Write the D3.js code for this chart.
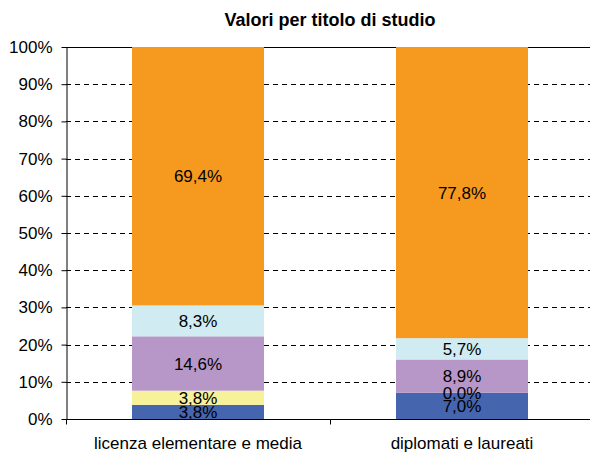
<!DOCTYPE html>
<html>
<head>
<meta charset="utf-8">
<style>
body { margin: 0; background: #fff; }
text { font-family: "Liberation Sans", Arial, sans-serif; fill: #000; }
.grid line { stroke: #000; stroke-width: 1px; stroke-dasharray: 5,4; }
</style>
</head>
<body>
<div id="chart"></div>
<script src="https://d3js.org/d3.v7.min.js"></script>
<script>

var categories = ["licenza elementare e media", "diplomati e laureati"];
var series = ["s1", "s2", "s3", "s4", "s5"];
var colors = ["#4565ae", "#f7f29a", "#b797c7", "#d0ecf2", "#f59a1f"];
var values1 = [3.8, 3.8, 14.6, 8.3, 69.4];
var values2 = [7.0, 0.0, 8.9, 5.7, 77.8];
var yTicks = [0, 10, 20, 30, 40, 50, 60, 70, 80, 90, 100];

var width = 590, height = 457;
var margin = {top: 47, right: -4, bottom: 38, left: 66};

var svg = d3.select("#chart").append("svg")
    .attr("width", width)
    .attr("height", height);

var x = d3.scaleBand()
    .domain(categories)
    .range([margin.left, width - margin.right])
    .paddingInner(0.5)
    .paddingOuter(0.25);

var y = d3.scaleLinear()
    .domain([0, 100])
    .range([height - margin.bottom, margin.top]);

// build rows for stack, normalised to 100 like Excel
var rows = [values1, values2].map(function(v, i) {
  var total = d3.sum(v);
  var r = {cat: categories[i]};
  series.forEach(function(s, j) { r[s] = v[j] / total * 100; r[s + "_raw"] = v[j]; });
  return r;
});

var stacked = d3.stack().keys(series)(rows);

// gridlines
svg.append("g")
    .attr("class", "grid")
    .selectAll("line")
    .data(yTicks.filter(function(d) { return d > 0 && d < 100; }))
    .enter().append("line")
    .attr("x1", margin.left)
    .attr("x2", width - margin.right)
    .attr("y1", function(d) { return Math.round(y(d)) + 0.5; })
    .attr("y2", function(d) { return Math.round(y(d)) + 0.5; });

// top border
svg.append("line")
    .attr("x1", margin.left).attr("x2", width - margin.right)
    .attr("y1", Math.round(y(100)) + 0.5).attr("y2", Math.round(y(100)) + 0.5)
    .attr("stroke", "#000");

var layer = svg.selectAll(".layer")
    .data(stacked)
    .enter().append("g")
    .attr("fill", function(d, i) { return colors[i]; });

layer.selectAll("rect")
    .data(function(d) { return d; })
    .enter().append("rect")
    .attr("x", function(d) { return x(d.data.cat); })
    .attr("width", x.bandwidth())
    .attr("y", function(d) { return y(d[1]); })
    .attr("height", function(d) { return y(d[0]) - y(d[1]); });

// labels
stacked.forEach(function(s) {
  svg.append("g").selectAll("text")
    .data(s)
    .enter().append("text")
    .attr("x", function(d) { return x(d.data.cat) + x.bandwidth() / 2; })
    .attr("y", function(d) { return (y(d[0]) + y(d[1])) / 2; })
    .attr("dy", "0.36em")
    .attr("text-anchor", "middle")
    .style("font-size", "17px")
    .text(function(d) { return d3.format(".1f")(d.data[s.key + "_raw"]).replace(".", ",") + "%"; });
});

// y axis
var yAxis = svg.append("g")
    .attr("transform", "translate(" + (margin.left + 0.5) + ",0)")
    .call(d3.axisLeft(y).tickValues(yTicks).tickSize(5).tickSizeOuter(0)
      .tickFormat(function(d) { return d + "%"; }));
yAxis.select(".domain").attr("stroke", "#000");
yAxis.selectAll(".tick line").attr("stroke", "#000");
yAxis.selectAll(".tick text").style("font-size", "17px").attr("x", -14).attr("fill", "#000");

// x axis
var xAxis = svg.append("g")
    .attr("transform", "translate(0," + (Math.round(y(0)) + 0.5) + ")");
xAxis.append("line")
    .attr("x1", margin.left).attr("x2", width - margin.right)
    .attr("stroke", "#000");
var bounds = [margin.left, margin.left + x.step(), margin.left + 2 * x.step()];
xAxis.selectAll(".xt")
    .data(bounds)
    .enter().append("line")
    .attr("x1", function(d) { return Math.round(d) + 0.5; })
    .attr("x2", function(d) { return Math.round(d) + 0.5; })
    .attr("y1", 0).attr("y2", 5)
    .attr("stroke", "#000");
xAxis.selectAll(".xl")
    .data(categories)
    .enter().append("text")
    .attr("x", function(d) { return x(d) + x.bandwidth() / 2; })
    .attr("y", 29)
    .attr("text-anchor", "middle")
    .style("font-size", "17px")
    .text(function(d) { return d; });

// title
svg.append("text")
    .attr("x", (margin.left + width - margin.right) / 2)
    .attr("y", 26)
    .attr("text-anchor", "middle")
    .style("font-size", "18px")
    .style("font-weight", "bold")
    .text("Valori per titolo di studio");

</script>
</body>
</html>
